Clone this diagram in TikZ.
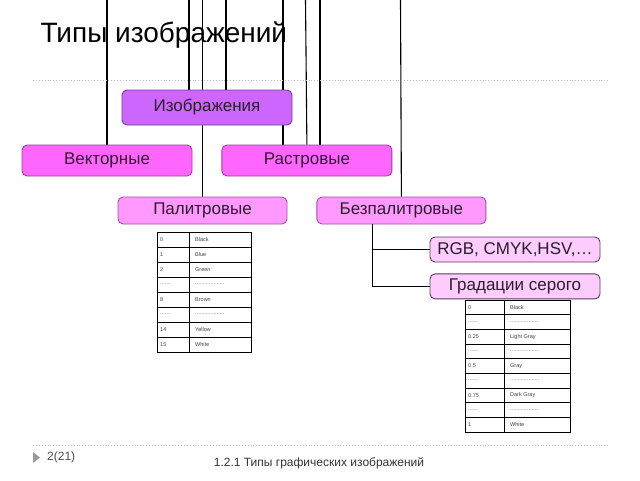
\documentclass[tikz,border=0pt]{standalone}
\usepackage{fontspec}
\setmainfont{Liberation Sans}
\usetikzlibrary{positioning,backgrounds}

\definecolor{imgfill}{HTML}{CC66FF}
\definecolor{imgline}{HTML}{7A3A96}
\definecolor{kindfill}{HTML}{FF66FF}
\definecolor{kindline}{HTML}{A03CA0}
\definecolor{subfill}{HTML}{FF99FF}
\definecolor{subline}{HTML}{A050A0}
\definecolor{modelfill}{HTML}{FFCCFF}
\definecolor{modelline}{HTML}{5A3A5A}
\definecolor{boxtext}{HTML}{2A1E2A}
\definecolor{rulegray}{HTML}{BBBBBB}

\newcommand{\numdots}{\textcolor{black!65}{.......}}
\newcommand{\celldots}{\textcolor{black!65}{...................}}

\tikzset{
  box/.style={draw, rounded corners=5pt, line width=0.9pt, text=boxtext, inner sep=0pt,
    font=\fontsize{17}{20}\selectfont},
  imgbox/.style={box, fill=imgfill, draw=imgline, minimum width=170, minimum height=35},
  kindbox/.style={box, fill=kindfill, draw=kindline, minimum width=170, minimum height=31},
  subbox/.style={box, fill=subfill, draw=subline, minimum width=169, minimum height=27},
  modelbox/.style={box, fill=modelfill, draw=modelline, minimum width=170, minimum height=25},
  wire/.style={draw=black, line width=1.1pt},
  tabframe/.style={draw=black, fill=white, line width=1.3pt, inner sep=0pt},
  tabgrid/.style={draw=black, line width=0.7pt},
  cell/.style={anchor=west, inner sep=0pt, text=black!75, font=\fontsize{5.5}{6}\selectfont},
  sepline/.style={draw=rulegray, dotted, line width=0.9pt}
}

\begin{document}
\begin{tikzpicture}[x=1pt, y=-1pt]
    \useasboundingbox (0,0) rectangle (640,480);

    \node[anchor=base west, font=\fontsize{28}{32}\selectfont] (title) at (37,42) {Типы изображений};
    \draw[sepline] (33,80) -- (610,80);

    \node[imgbox] (img) at (207,107.5) {Изображения};
    \node[kindbox] (vec) at (107,160.5) {Векторные};
    \node[kindbox, right=29pt of vec] (ras) {Растровые};
    \node[subbox] (pal) at (202.5,210.5) {Палитровые};
    \node[subbox, right=29pt of pal] (bez) {Безпалитровые};
    \node[modelbox] (rgb) at (515,249.5) {RGB, CMYK,HSV,\dots};
    \node[modelbox, below=11pt of rgb] (gray) {Градации серого};

    \foreach \n/\x in {a/107, b/189, c/202.5, d/226, e/283, f/305.5, g/320, h/400.5}
        \coordinate (top\n) at (\x,0);

    \begin{scope}[on background layer]
        \draw[wire] (topa) -- (vec.north);
        \draw[wire] (topb) -- (topb |- img.north);
        \draw[wire] (topc) -- (pal.north);
        \draw[wire] (topd) -- (topd |- img.north);
        \draw[wire] (tope) -- (tope |- ras.north);
        \draw[wire] (topf) -- (ras.north);
        \draw[wire] (topg) -- (topg |- ras.north);
        \draw[wire] (toph) -- (bez.north);
    \end{scope}
    \draw[wire] ([xshift=-28.5pt]bez.south) |- (rgb.west);
    \draw[wire] ([xshift=-28.5pt]bez.south) |- (gray.west);

    \node[tabframe, anchor=north west, minimum width=94, minimum height=120] (paltab) at (157,232) {};
    \draw[tabgrid] ([xshift=32pt]paltab.north west) -- ([xshift=32pt]paltab.south west);
    \foreach \i in {1,...,7}
        \draw[tabgrid] ([yshift={-15pt*\i}]paltab.north west) -- ([yshift={-15pt*\i}]paltab.north east);
    \foreach \a/\b [count=\i] in {0/Black, 1/Blue, 2/Green, \numdots/\celldots, 8/Brown, \numdots/\celldots, 14/Yellow, 15/White}{
        \node[cell] (pn\i) at ([xshift=3pt, yshift={7.5pt-15pt*\i}]paltab.north west) {\a};
        \node[cell] (pc\i) at ([xshift=38pt, yshift={7.5pt-15pt*\i}]paltab.north west) {\b};
    }

    \node[tabframe, anchor=north west, minimum width=105, minimum height=132] (graytab) at (465,300) {};
    \draw[tabgrid] ([xshift=39pt]graytab.north west) -- ([xshift=39pt]graytab.south west);
    \foreach \i in {1,...,8}
        \draw[tabgrid] ([yshift={-14.667pt*\i}]graytab.north west) -- ([yshift={-14.667pt*\i}]graytab.north east);
    \foreach \a/\b [count=\i] in {0/Black, \numdots/\celldots, 0.25/Light Gray, \numdots/\celldots, 0.5/Gray, \numdots/\celldots, 0.75/Dark Gray, \numdots/\celldots, 1/White}{
        \node[cell] (gn\i) at ([xshift=3pt, yshift={7.333pt-14.667pt*\i}]graytab.north west) {\a};
        \node[cell] (gc\i) at ([xshift=45pt, yshift={7.333pt-14.667pt*\i}]graytab.north west) {\b};
    }

    \draw[sepline] (33,445) -- (610,445);
    \fill[black!40] (33,452) -- (40,457.5) -- (33,463) -- cycle;
    \node[anchor=west, inner sep=0pt, text=black!70, font=\fontsize{12}{14}\selectfont] (pgno) at (47,457.5) {2(21)};
    \node[anchor=base, inner sep=0pt, text=black!80, font=\fontsize{12}{14}\selectfont] (foot) at (319,466) {1.2.1 Типы графических изображений};
\end{tikzpicture}
\end{document}
